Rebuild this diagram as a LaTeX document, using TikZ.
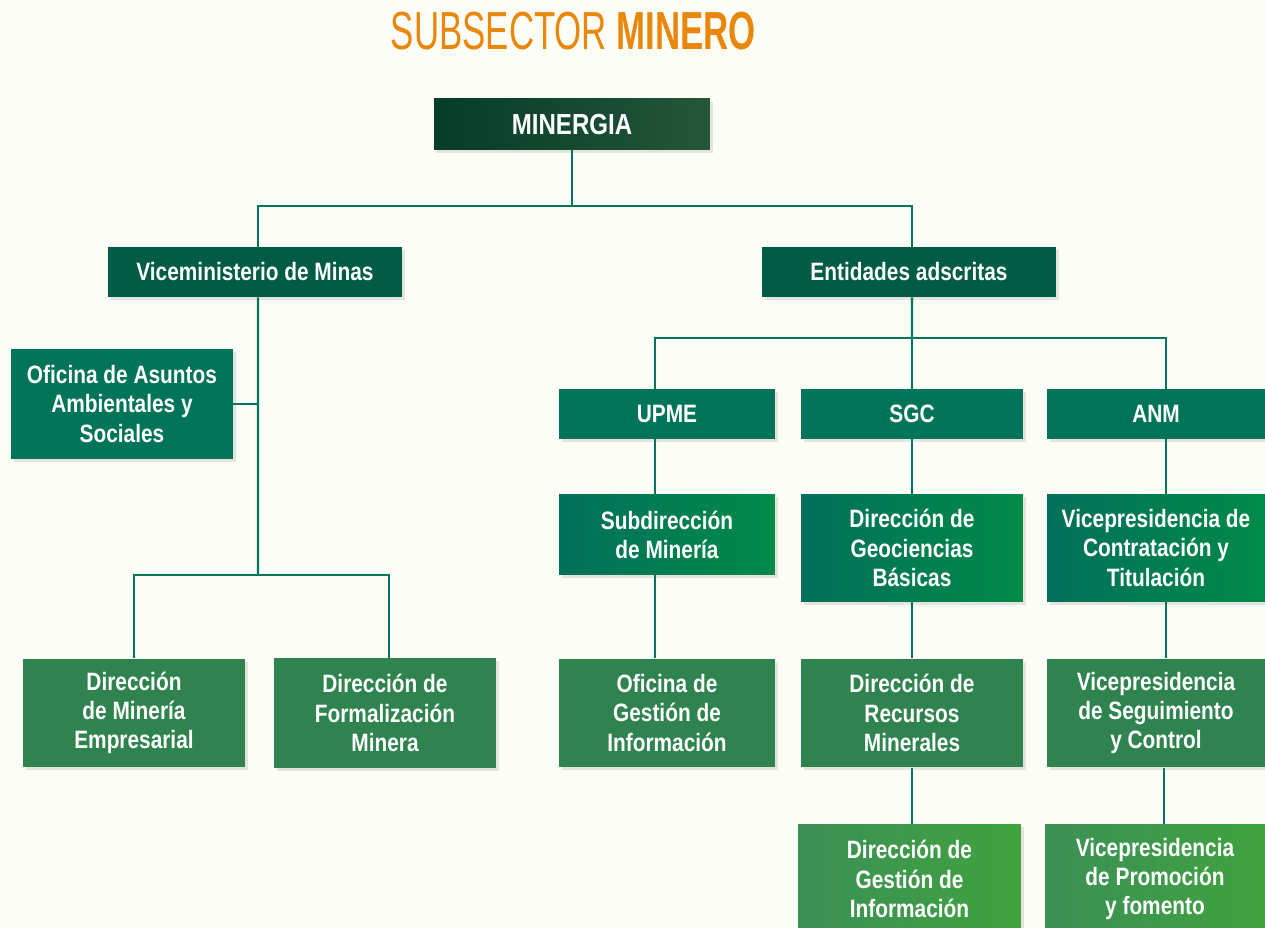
\documentclass[tikz,border=0pt]{standalone}
\usepackage{fontspec}
\setmainfont{Liberation Sans}[FakeStretch=0.83]
\newfontfamily\titlefont{Liberation Sans}[FakeStretch=0.65]
\usetikzlibrary{positioning}
\usetikzlibrary{shadows}

\definecolor{bgcream}{HTML}{FDFDF8}
\definecolor{titleorange}{HTML}{E9870A}
\definecolor{linkgreen}{HTML}{00765A}
\definecolor{shadowgrey}{HTML}{E4E4DC}
\definecolor{topdark}{HTML}{053D28}
\definecolor{toplight}{HTML}{245639}
\definecolor{vicegreen}{HTML}{005C44}
\definecolor{entgreen}{HTML}{007458}
\definecolor{subleft}{HTML}{00705A}
\definecolor{subright}{HTML}{008A48}
\definecolor{dirgreen}{HTML}{2E834E}
\definecolor{lastleft}{HTML}{3B9056}
\definecolor{lastright}{HTML}{40A33E}

\tikzset{
    box/.style={inner sep=2pt, align=center, text=white,
        font=\bfseries\fontsize{14.3}{16.6}\selectfont,
        drop shadow={shadow xshift=0.06cm, shadow yshift=-0.06cm, fill=shadowgrey, opacity=1}},
    topbox/.style={box, left color=topdark, right color=toplight, font=\bfseries\fontsize{16.5}{18}\selectfont},
    vicebox/.style={box, fill=vicegreen},
    entbox/.style={box, fill=entgreen},
    subbox/.style={box, left color=subleft, right color=subright},
    dirbox/.style={box, fill=dirgreen},
    lastbox/.style={box, left color=lastleft, right color=lastright},
    link/.style={draw=linkgreen, line width=1.4pt},
    title/.style={text=titleorange, font=\titlefont\fontsize{30.5}{36}\selectfont}
}

\begin{document}
\begin{tikzpicture}[x=0.02cm, y=-0.02cm]
            \fill[bgcream] (0,0) rectangle (1265,928);
            \useasboundingbox (0,0) rectangle (1265,928);

            \node[title, anchor=base] (title) at (573.5,50) {SUBSECTOR \textbf{MINERO}};

            \node[topbox, minimum width=5.52cm, minimum height=1.02cm] (minergia) at (572,124.5) {MINERGIA};

            \node[vicebox, minimum width=5.88cm, minimum height=1cm] (vice) at (255,272) {Viceministerio de Minas};
            \node[vicebox, minimum width=5.88cm, minimum height=1cm] (ent) at (909,272) {Entidades adscritas};

            \node[entbox, minimum width=4.44cm, minimum height=2.2cm] (ofa) at (122,404) {Oficina de Asuntos\\Ambientales y\\Sociales};
            \node[dirbox, minimum width=4.44cm, minimum height=2.18cm] (dme) at (134,713) {Dirección\\de Minería\\Empresarial};
            \node[dirbox, minimum width=4.44cm, minimum height=2.2cm] (dfm) at (385,713) {Dirección de\\Formalización\\Minera};

            \node[entbox, minimum width=4.32cm, minimum height=1cm] (upme) at (667,414) {UPME};
            \node[entbox, minimum width=4.44cm, minimum height=1cm] (sgc) at (912,414) {SGC};
            \node[entbox, minimum width=4.36cm, minimum height=1cm] (anm) at (1156,414) {ANM};

            \node[subbox, minimum width=4.32cm, minimum height=1.62cm] (sub) at (667,534.5) {Subdirección\\de Minería};
            \node[subbox, minimum width=4.44cm, minimum height=2.16cm] (geo) at (912,548) {Dirección de\\Geociencias\\Básicas};
            \node[subbox, minimum width=4.36cm, minimum height=2.16cm] (con) at (1156,548) {Vicepresidencia de\\Contratación y\\Titulación};

            \node[dirbox, minimum width=4.32cm, minimum height=2.18cm] (ofg) at (667,713) {Oficina de\\Gestión de\\Información};
            \node[dirbox, minimum width=4.44cm, minimum height=2.18cm] (rec) at (912,713) {Dirección de\\Recursos\\Minerales};
            \node[dirbox, minimum width=4.36cm, minimum height=2.18cm] (seg) at (1156,713) {Vicepresidencia\\de Seguimiento\\y Control};

            \node[lastbox, minimum width=4.46cm, minimum height=2.2cm] (gin) at (909.5,879) {Dirección de\\Gestión de\\Información};
            \node[lastbox, minimum width=4.4cm, minimum height=2.2cm] (pro) at (1155,879) {Vicepresidencia\\de Promoción\\y fomento};

            % bus points
            \coordinate (top bus) at (572,206);
            \coordinate (vice bus) at (258,575);
            \coordinate (ent bus) at (912,338);

            \draw[link] (minergia) -- (top bus) -| ([xshift=0.06cm]vice.north);
            \draw[link] (top bus) -| ([xshift=0.06cm]ent.north);
            \draw[link] ([xshift=0.06cm]vice.south) -- (vice bus);
            \draw[link] (ofa) -- (ofa -| vice bus);
            \draw[link] (vice bus) -| (dme);
            \draw[link] (vice bus) -| ([xshift=0.08cm]dfm.north);
            \draw[link] ([xshift=0.06cm]ent.south) -- (ent bus);
            \draw[link] (ent bus) -| ([xshift=-0.24cm]upme.north);
            \draw[link] (ent bus) -| (sgc);
            \draw[link] (ent bus) -| ([xshift=0.2cm]anm.north);
            \draw[link] ([xshift=-0.24cm]upme.south) -- ([xshift=-0.24cm]sub.north);
            \draw[link] ([xshift=-0.24cm]sub.south) -- ([xshift=-0.24cm]ofg.north);
            \draw[link] (sgc) -- (geo);
            \draw[link] (geo) -- (rec);
            \draw[link] (rec) -- (rec |- gin.north);
            \draw[link] ([xshift=0.2cm]anm.south) -- ([xshift=0.2cm]con.north);
            \draw[link] ([xshift=0.2cm]con.south) -- ([xshift=0.2cm]seg.north);
            \draw[link] ([xshift=0.16cm]seg.south) -- ([xshift=0.16cm]seg.south |- pro.north);
        \end{tikzpicture}
\end{document}
